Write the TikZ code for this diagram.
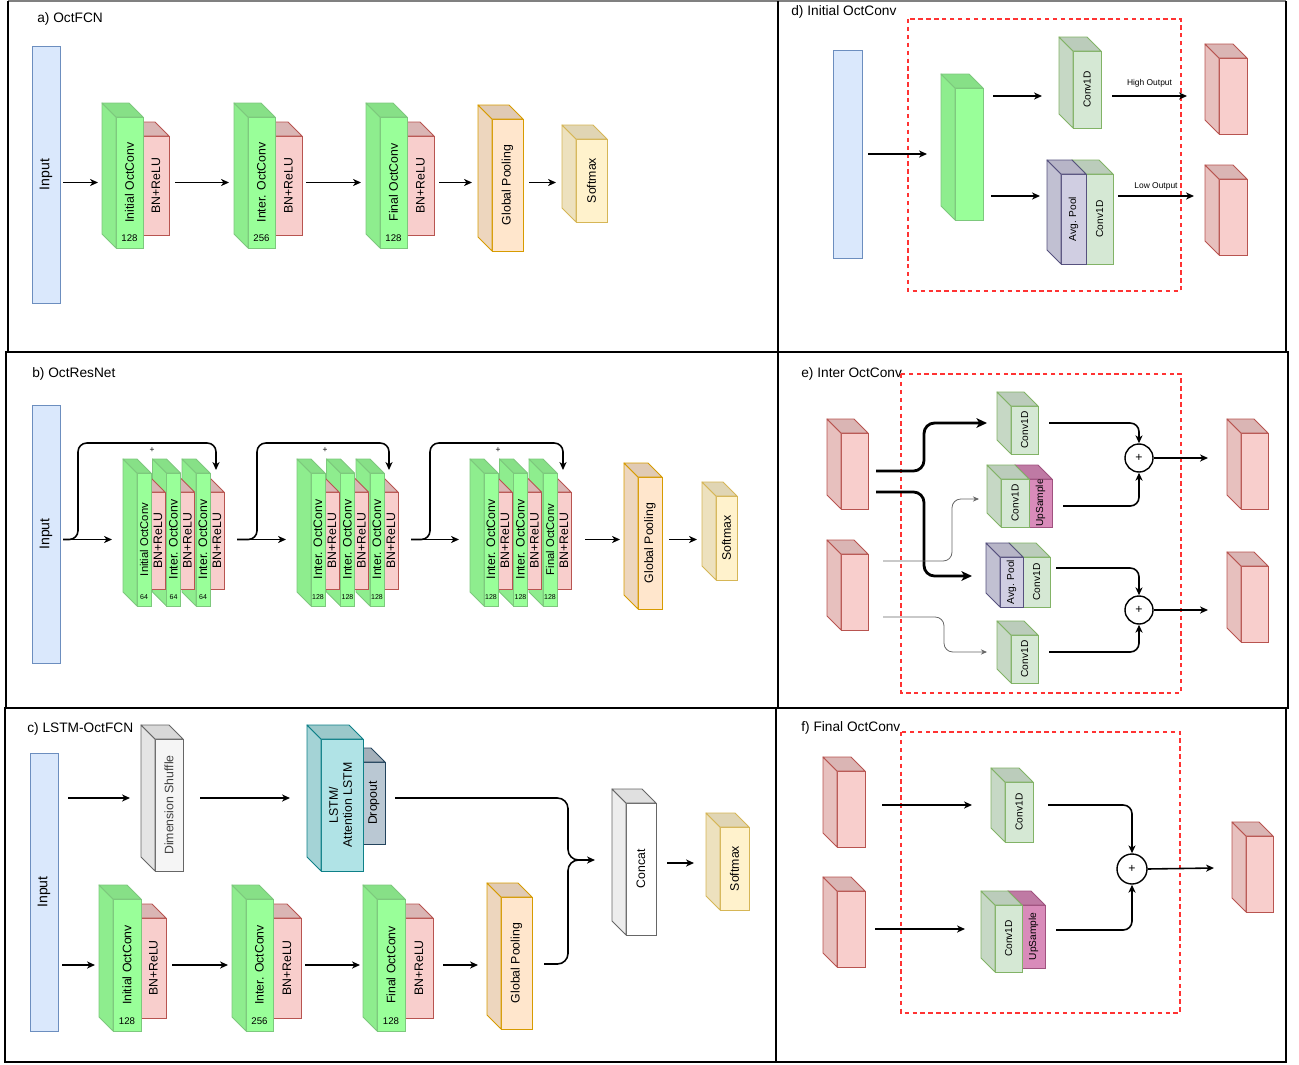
\documentclass[tikz,border=0pt]{standalone}
\usepackage{fontspec}
\setmainfont{Liberation Sans}
\usetikzlibrary{positioning,arrows.meta,calc}
\tikzset{
	>={Stealth[length=4.5pt,width=4pt,inset=1.3pt]}
}

\definecolor{oct}{HTML}{99FF99}
\definecolor{octline}{HTML}{7DC87D}
\definecolor{bn}{HTML}{F8CECC}
\definecolor{bnline}{HTML}{B85450}
\definecolor{conv}{HTML}{D5E8D4}
\definecolor{convline}{HTML}{82B366}
\definecolor{pool}{HTML}{D0CEE2}
\definecolor{poolline}{HTML}{56517E}
\definecolor{upsm}{HTML}{D98BBA}
\definecolor{upsmline}{HTML}{A0527F}
\definecolor{gp}{HTML}{FFE6CC}
\definecolor{gpline}{HTML}{D79B00}
\definecolor{sm}{HTML}{FFF2CC}
\definecolor{smline}{HTML}{D6B656}
\definecolor{shuf}{HTML}{F5F5F5}
\definecolor{shufline}{HTML}{666666}
\definecolor{cat}{HTML}{FFFFFF}
\definecolor{catline}{HTML}{666666}
\definecolor{lstm}{HTML}{B0E3E6}
\definecolor{lstmline}{HTML}{0E8088}
\definecolor{drop}{HTML}{BAC8D3}
\definecolor{dropline}{HTML}{23445D}
\definecolor{inp}{HTML}{DAE8FC}
\definecolor{inpline}{HTML}{6C8EBF}
\definecolor{blockred}{HTML}{FF3333}

% side and top face of a box, going up and left from its front face
\newcommand{\boxdepth}[2]{%
	\filldraw [fill=#2!93!black, draw=#2line, line width=0.55pt, line join=round]
		(#1.north west) -- ++(-14,-14) -- ($(#1.south west)+(-14,-14)$) -- (#1.south west) -- cycle;
	\filldraw [fill=#2!88!black, draw=#2line, line width=0.55pt, line join=round]
		(#1.north west) -- ++(-14,-14) -- ($(#1.north east)+(-14,-14)$) -- (#1.north east) -- cycle;
}

\begin{document}
\begin{tikzpicture}[
x = 0.02cm,
y = -0.02cm,
every node/.style = {
	font = \fontsize{7}{8}\selectfont
},
wh/.style 2 args = {
	minimum width = #1*0.02cm,
	minimum height = #2*0.02cm
},
face/.style = {
	draw,
	inner sep = 0pt,
	outer sep = 0pt,
	line width = 0.55pt
},
octbox/.style = {face, fill = oct, draw = octline},
bnbox/.style = {face, fill = bn, draw = bnline},
convbox/.style = {face, fill = conv, draw = convline, font = \fontsize{5.8}{7}\selectfont},
poolbox/.style = {face, fill = pool, draw = poolline, font = \fontsize{5.8}{7}\selectfont},
upbox/.style = {face, fill = upsm, draw = upsmline, font = \fontsize{5.8}{7}\selectfont},
gpbox/.style = {face, fill = gp, draw = gpline},
smbox/.style = {face, fill = sm, draw = smline},
shufbox/.style = {face, fill = shuf, draw = shufline, text = black!75},
catbox/.style = {face, fill = cat, draw = catline},
lstmbox/.style = {face, fill = lstm, draw = lstmline},
dropbox/.style = {face, fill = drop, draw = dropline},
inbox/.style = {face, fill = inp, draw = inpline, font = \fontsize{8}{9}\selectfont},
num/.style = {inner sep = 0pt, font = \fontsize{5.5}{6}\selectfont},
tinynum/.style = {inner sep = 0pt, font = \fontsize{4}{5}\selectfont},
minilabel/.style = {inner sep = 0pt, font = \fontsize{4.8}{6}\selectfont},
narrow/.style = {font = \fontsize{6.4}{7}\selectfont},
title/.style = {anchor = west, inner sep = 0pt, font = \fontsize{7.8}{9}\selectfont},
adder/.style = {circle, draw, fill = white, line width = 0.8pt, inner sep = 0pt},
panel/.style = {line width = 1.6pt},
block/.style = {draw = blockred, dash pattern = on 2.5pt off 2pt, line width = 0.6pt},
arrow/.style = {->, line width = 0.9pt},
heavy/.style = {-{Stealth[length=6pt,width=5.5pt,inset=1.6pt]}, line width = 1.6pt, rounded corners = 6},
faint/.style = {-{Stealth[length=3.5pt,width=3pt]}, line width = 0.45pt, draw = black!60, rounded corners = 5}
]

\useasboundingbox (0,0) rectangle (1299,1065);

% panel frames
\draw [gray, line width = 0.9pt] (8,1) -- (1286,1);
\draw [panel] (8,1) -- (8,352) -- (1286,352) -- (1286,1);
\draw [panel] (778,1) -- (778,352);
\draw [panel] (6,352) rectangle (778,708);
\draw [panel] (778,352) rectangle (1288,708);
\draw [panel] (5,708) rectangle (776,1062);
\draw [panel] (776,708) rectangle (1286,1062);

% a) OctFCN
\node (title_a) [title] at (37,19) {a) OctFCN};
\node (input_a) [inbox, wh={28}{257}] at (46,174.5) {\rotatebox{90}{Input}};

\node (bn_a1) [bnbox, wh={26}{99}] at (156,185.5) {\rotatebox{90}{BN+ReLU}};
\boxdepth{bn_a1}{bn}
\node (oct_a1) [octbox, wh={27}{131}] at (129.5,182.5) {\rotatebox{90}{Initial OctConv}};
\boxdepth{oct_a1}{oct}
\node (num_a1) [num, above = 3.5pt of oct_a1.south] {128};

\node (bn_a2) [bnbox, wh={27}{99}] at (288.5,185.5) {\rotatebox{90}{BN+ReLU}};
\boxdepth{bn_a2}{bn}
\node (oct_a2) [octbox, wh={27}{131}] at (261.5,182.5) {\rotatebox{90}{Inter. OctConv}};
\boxdepth{oct_a2}{oct}
\node (num_a2) [num, above = 3.5pt of oct_a2.south] {256};

\node (bn_a3) [bnbox, wh={27}{99}] at (420.5,185.5) {\rotatebox{90}{BN+ReLU}};
\boxdepth{bn_a3}{bn}
\node (oct_a3) [octbox, wh={27}{131}] at (393.5,182.5) {\rotatebox{90}{Final OctConv}};
\boxdepth{oct_a3}{oct}
\node (num_a3) [num, above = 3.5pt of oct_a3.south] {128};

\node (gp_a) [gpbox, wh={31}{132}] at (507.5,185) {\rotatebox{90}{Global Pooling}};
\boxdepth{gp_a}{gp}
\node (sm_a) [smbox, wh={31}{83}] at (591.5,180.5) {\rotatebox{90}{Softmax}};
\boxdepth{sm_a}{sm}

\draw [arrow] ($(input_a.east |- oct_a1.west)+(3,0)$) -- ($(oct_a1.west)+(-18,0)$);
\draw [arrow] ($(bn_a1.east |- oct_a2.west)+(6,0)$) -- ($(oct_a2.west)+(-19,0)$);
\draw [arrow] ($(bn_a2.east |- oct_a3.west)+(4,0)$) -- ($(oct_a3.west)+(-19,0)$);
\draw [arrow] ($(bn_a3.east |- oct_a3.west)+(5,0)$) -- ($(gp_a.west |- oct_a3.west)+(-20,0)$);
\draw [arrow] ($(gp_a.east |- oct_a3.west)+(6,0)$) -- ($(sm_a.west |- oct_a3.west)+(-20,0)$);

% d) Initial OctConv
\draw [block] (908,19) rectangle (1181,291);
\node (title_d) [title] at (791,12) {d) Initial OctConv};
\node (input_d) [inbox, wh={29}{208}] at (847.5,154) {};
\node (oct_d) [octbox, wh={28}{132}] at (969,154) {};
\boxdepth{oct_d}{oct}
\node (conv_dh) [convbox, wh={28}{77}] at (1087,89.5) {\rotatebox{90}{Conv1D}};
\boxdepth{conv_dh}{conv}
\node (conv_dl) [convbox, wh={27}{90}] at (1099.5,219) {\rotatebox{90}{Conv1D}};
\boxdepth{conv_dl}{conv}
\node (pool_d) [poolbox, wh={25}{90}] at (1073.5,219) {\rotatebox{90}{Avg. Pool}};
\boxdepth{pool_d}{pool}
\node (out_dh) [bnbox, wh={28}{76}] at (1233,96) {};
\boxdepth{out_dh}{bn}
\node (out_dl) [bnbox, wh={28}{76}] at (1233,217) {};
\boxdepth{out_dl}{bn}

\draw [arrow] ($(input_d.east)+(6,0)$) -- ($(oct_d.west)+(-28,0)$);
\draw [arrow] ($(oct_d.east |- out_dh.west)+(10,0)$) -- ($(conv_dh.west |- out_dh.west)+(-31,0)$);
\draw [arrow] ($(conv_dh.east |- out_dh.west)+(11,0)$) -- node [above = 4.5pt, minilabel] {High Output} ($(out_dh.west)+(-32,0)$);
\draw [arrow] ($(oct_d.east |- pool_d.west)+(8,-23)$) -- ($(pool_d.west)+(-21,-23)$);
\draw [arrow] ($(conv_dl.east)+(5,-23)$) -- node [above = 3pt, minilabel] {Low Output} ($(out_dl.west)+(-25,-21)$);

% b) OctResNet
\node (title_b) [title] at (32,374) {b) OctResNet};
\node (input_b) [inbox, wh={28}{258}] at (46,534) {\rotatebox{90}{Input}};

\node (bn_b3) [bnbox, wh={14}{97}] at (217,540.5) {\rotatebox{90}{BN+ReLU}};
\boxdepth{bn_b3}{bn}
\node (oct_b3) [octbox, wh={14}{133}] at (203,539.5) {\rotatebox{90}{Inter. OctConv}};
\boxdepth{oct_b3}{oct}
\node (num_b3) [tinynum, above = 3.5pt of oct_b3.south] {64};
\node (bn_b2) [bnbox, wh={14}{97}] at (187.5,540.5) {\rotatebox{90}{BN+ReLU}};
\boxdepth{bn_b2}{bn}
\node (oct_b2) [octbox, wh={14}{133}] at (173.5,539.5) {\rotatebox{90}{Inter. OctConv}};
\boxdepth{oct_b2}{oct}
\node (num_b2) [tinynum, above = 3.5pt of oct_b2.south] {64};
\node (bn_b1) [bnbox, wh={14}{97}] at (158,540.5) {\rotatebox{90}{BN+ReLU}};
\boxdepth{bn_b1}{bn}
\node (oct_b1) [octbox, narrow, wh={14}{133}] at (144,539.5) {\rotatebox{90}{Initial OctConv}};
\boxdepth{oct_b1}{oct}
\node (num_b1) [tinynum, above = 3.5pt of oct_b1.south] {64};

\node (bn_b6) [bnbox, wh={14}{97}] at (391,540.5) {\rotatebox{90}{BN+ReLU}};
\boxdepth{bn_b6}{bn}
\node (oct_b6) [octbox, wh={14}{133}] at (377,539.5) {\rotatebox{90}{Inter. OctConv}};
\boxdepth{oct_b6}{oct}
\node (num_b6) [tinynum, above = 3.5pt of oct_b6.south] {128};
\node (bn_b5) [bnbox, wh={14}{97}] at (361.5,540.5) {\rotatebox{90}{BN+ReLU}};
\boxdepth{bn_b5}{bn}
\node (oct_b5) [octbox, wh={14}{133}] at (347.5,539.5) {\rotatebox{90}{Inter. OctConv}};
\boxdepth{oct_b5}{oct}
\node (num_b5) [tinynum, above = 3.5pt of oct_b5.south] {128};
\node (bn_b4) [bnbox, wh={14}{97}] at (332,540.5) {\rotatebox{90}{BN+ReLU}};
\boxdepth{bn_b4}{bn}
\node (oct_b4) [octbox, wh={14}{133}] at (318,539.5) {\rotatebox{90}{Inter. OctConv}};
\boxdepth{oct_b4}{oct}
\node (num_b4) [tinynum, above = 3.5pt of oct_b4.south] {128};

\node (bn_b9) [bnbox, wh={14}{97}] at (564,540.5) {\rotatebox{90}{BN+ReLU}};
\boxdepth{bn_b9}{bn}
\node (oct_b9) [octbox, narrow, wh={14}{133}] at (550,539.5) {\rotatebox{90}{Final OctConv}};
\boxdepth{oct_b9}{oct}
\node (num_b9) [tinynum, above = 3.5pt of oct_b9.south] {128};
\node (bn_b8) [bnbox, wh={14}{97}] at (534.5,540.5) {\rotatebox{90}{BN+ReLU}};
\boxdepth{bn_b8}{bn}
\node (oct_b8) [octbox, wh={14}{133}] at (520.5,539.5) {\rotatebox{90}{Inter. OctConv}};
\boxdepth{oct_b8}{oct}
\node (num_b8) [tinynum, above = 3.5pt of oct_b8.south] {128};
\node (bn_b7) [bnbox, wh={14}{97}] at (505,540.5) {\rotatebox{90}{BN+ReLU}};
\boxdepth{bn_b7}{bn}
\node (oct_b7) [octbox, wh={14}{133}] at (491,539.5) {\rotatebox{90}{Inter. OctConv}};
\boxdepth{oct_b7}{oct}
\node (num_b7) [tinynum, above = 3.5pt of oct_b7.south] {128};

\node (gp_b) [gpbox, wh={24}{132}] at (650,543) {\rotatebox{90}{Global Pooling}};
\boxdepth{gp_b}{gp}
\node (sm_b) [smbox, wh={21}{84}] at (726.5,538) {\rotatebox{90}{Softmax}};
\boxdepth{sm_b}{sm}

\draw [arrow] ($(input_b.east |- oct_b1.west)+(3,0)$) -- ($(oct_b1.west)+(-25,0)$);
\draw [arrow, rounded corners = 5] ($(input_b.east |- oct_b1.west)+(3,0)$) -- ++(15,0) |- ($(bn_b3.north)+(-1,-49)$) -- ($(bn_b3.north)+(-1,-22)$);
\node (plus_b1) [minilabel] at (152,450) {+};
\draw [arrow] ($(bn_b3.east |- oct_b4.west)+(13,0)$) -- ($(oct_b4.west)+(-25,0)$);
\draw [arrow, rounded corners = 5] ($(bn_b3.east |- oct_b4.west)+(13,0)$) -- ++(20,0) |- ($(bn_b6.north)+(-2,-49)$) -- ($(bn_b6.north)+(-2,-22)$);
\node (plus_b2) [minilabel] at (325,450) {+};
\draw [arrow] ($(bn_b6.east |- oct_b7.west)+(13,0)$) -- ($(oct_b7.west)+(-25,0)$);
\draw [arrow, rounded corners = 5] ($(bn_b6.east |- oct_b7.west)+(13,0)$) -- ++(19,0) |- ($(bn_b9.north)+(-1,-49)$) -- ($(bn_b9.north)+(-1,-22)$);
\node (plus_b3) [minilabel] at (498,450) {+};
\draw [arrow] ($(bn_b9.east |- oct_b9.west)+(14,0)$) -- ($(gp_b.west |- oct_b9.west)+(-18,0)$);
\draw [arrow] ($(gp_b.east |- oct_b9.west)+(7,0)$) -- ($(sm_b.west |- oct_b9.west)+(-19,0)$);

% e) Inter OctConv
\draw [block] (901,374) rectangle (1181,693);
\node (title_e) [title] at (801,374) {e) Inter OctConv};
\node (in_eh) [bnbox, wh={27}{76}] at (854.5,471) {};
\boxdepth{in_eh}{bn}
\node (in_el) [bnbox, wh={27}{76}] at (854.5,592) {};
\boxdepth{in_el}{bn}
\node (conv_e1) [convbox, wh={27}{48}] at (1024.5,430) {\rotatebox{90}{Conv1D}};
\boxdepth{conv_e1}{conv}
\node (up_e) [upbox, wh={23}{48}] at (1040.5,503) {\rotatebox{90}{UpSample}};
\boxdepth{up_e}{upsm}
\node (conv_e2) [convbox, wh={28}{48}] at (1015,503) {\rotatebox{90}{Conv1D}};
\boxdepth{conv_e2}{conv}
\node (conv_e3) [convbox, wh={27}{50}] at (1036.5,582) {\rotatebox{90}{Conv1D}};
\boxdepth{conv_e3}{conv}
\node (pool_e) [poolbox, wh={23}{50}] at (1011.5,582) {\rotatebox{90}{Avg. Pool}};
\boxdepth{pool_e}{pool}
\node (conv_e4) [convbox, wh={27}{48}] at (1024.5,659) {\rotatebox{90}{Conv1D}};
\boxdepth{conv_e4}{conv}
\node (sum_e1) [adder, minimum size = 28*0.02cm] at (1139,458) {+};
\node (sum_e2) [adder, minimum size = 28*0.02cm] at (1139,610) {+};
\node (out_eh) [bnbox, wh={27}{76}] at (1254.5,471) {};
\boxdepth{out_eh}{bn}
\node (out_el) [bnbox, wh={27}{76}] at (1254.5,604) {};
\boxdepth{out_el}{bn}

\draw [heavy] ($(in_eh.east)+(8,0)$) -- ++(48,0) |- ($(conv_e1.west)+(-24,-7)$);
\draw [heavy] ($(in_eh.east)+(8,21)$) -- ++(48,0) |- ($(pool_e.west)+(-28,-6)$);
\draw [faint] ($(in_el.east)+(15,-31)$) -- ++(69,0) |- ($(conv_e2.west)+(-22,-4)$);
\draw [faint] ($(in_el.east)+(15,25)$) -- ++(61,0) |- ($(conv_e4.west)+(-24,-7)$);
\draw [arrow, rounded corners = 5] ($(conv_e1.east)+(11,-7)$) -| (sum_e1.north);
\draw [arrow, rounded corners = 5] ($(up_e.east)+(11,3)$) -| (sum_e1.south);
\draw [arrow, rounded corners = 5] ($(conv_e3.east)+(6,-14)$) -| (sum_e2.north);
\draw [arrow, rounded corners = 5] ($(conv_e4.east)+(11,-7)$) -| (sum_e2.south);
\draw [arrow] (sum_e1.east) -- ($(out_eh.west)+(-33,-13)$);
\draw [arrow] (sum_e2.east) -- ($(out_el.west)+(-33,6)$);

% c) LSTM-OctFCN
\node (title_c) [title] at (27,729) {c) LSTM-OctFCN};
\node (input_c) [inbox, wh={28}{278}] at (44,892) {\rotatebox{90}{Input}};
\node (shuf_c) [shufbox, wh={28}{132}] at (169,805) {\rotatebox{90}{Dimension Shuffle}};
\boxdepth{shuf_c}{shuf}
\node (drop_c) [dropbox, wh={22}{82}] at (374,803) {\rotatebox{90}{Dropout}};
\boxdepth{drop_c}{drop}
\node (lstm_c) [lstmbox, wh={42}{132}] at (342,805) {\rotatebox{90}{\begin{tabular}{@{}c@{}}LSTM/\\Attention LSTM\end{tabular}}};
\boxdepth{lstm_c}{lstm}

\node (bn_c1) [bnbox, wh={25}{100}] at (153.5,968) {\rotatebox{90}{BN+ReLU}};
\boxdepth{bn_c1}{bn}
\node (oct_c1) [octbox, wh={28}{132}] at (127,965) {\rotatebox{90}{Initial OctConv}};
\boxdepth{oct_c1}{oct}
\node (num_c1) [num, above = 3.5pt of oct_c1.south] {128};
\node (bn_c2) [bnbox, wh={28}{100}] at (287,968) {\rotatebox{90}{BN+ReLU}};
\boxdepth{bn_c2}{bn}
\node (oct_c2) [octbox, wh={27}{132}] at (259.5,965) {\rotatebox{90}{Inter. OctConv}};
\boxdepth{oct_c2}{oct}
\node (num_c2) [num, above = 3.5pt of oct_c2.south] {256};
\node (bn_c3) [bnbox, wh={28}{100}] at (419,968) {\rotatebox{90}{BN+ReLU}};
\boxdepth{bn_c3}{bn}
\node (oct_c3) [octbox, wh={28}{132}] at (391,965) {\rotatebox{90}{Final OctConv}};
\boxdepth{oct_c3}{oct}
\node (num_c3) [num, above = 3.5pt of oct_c3.south] {128};
\node (gp_c) [gpbox, wh={31}{132}] at (516.5,963) {\rotatebox{90}{Global Pooling}};
\boxdepth{gp_c}{gp}
\node (cat_c) [catbox, wh={30}{132}] at (641,869) {\rotatebox{90}{Concat}};
\boxdepth{cat_c}{cat}
\node (sm_c) [smbox, wh={29}{83}] at (734.5,868.5) {\rotatebox{90}{Softmax}};
\boxdepth{sm_c}{sm}

\draw [arrow] ($(input_c.east |- shuf_c.west)+(10,-7)$) -- ($(shuf_c.west)+(-25,-7)$);
\draw [arrow] ($(shuf_c.east)+(17,-7)$) -- ($(lstm_c.west)+(-31,-7)$);
\draw [arrow, rounded corners = 6] ($(drop_c.east)+(10,-5)$) -| ($(cat_c.west)+(-58,-9)$) -- ($(cat_c.west)+(-31,-9)$);
\draw [line width = 0.9pt, rounded corners = 6] ($(gp_c.east)+(12,1)$) -| ($(cat_c.west)+(-58,-9)$) -- ($(cat_c.west)+(-50,-9)$);
\draw [arrow] ($(input_c.east |- oct_c1.west)+(4,0)$) -- ($(oct_c1.west)+(-18,0)$);
\draw [arrow] ($(bn_c1.east |- oct_c2.west)+(6,0)$) -- ($(oct_c2.west)+(-18,0)$);
\draw [arrow] ($(bn_c2.east |- oct_c3.west)+(4,0)$) -- ($(oct_c3.west)+(-17,0)$);
\draw [arrow] ($(bn_c3.east |- oct_c3.west)+(10,0)$) -- ($(gp_c.west |- oct_c3.west)+(-23,0)$);
\draw [arrow] ($(cat_c.east)+(11,-6)$) -- ($(sm_c.west |- cat_c.east)+(-26,-6)$);

% f) Final OctConv
\draw [block] (901,732) rectangle (1180,1013);
\node (title_f) [title] at (801,728) {f) Final OctConv};
\node (in_fh) [bnbox, wh={28}{76}] at (851,809) {};
\boxdepth{in_fh}{bn}
\node (in_fl) [bnbox, wh={28}{76}] at (851,929) {};
\boxdepth{in_fl}{bn}
\node (conv_f1) [convbox, wh={28}{60}] at (1019,812) {\rotatebox{90}{Conv1D}};
\boxdepth{conv_f1}{conv}
\node (up_f) [upbox, wh={23}{63}] at (1033.5,936.5) {\rotatebox{90}{UpSample}};
\boxdepth{up_f}{upsm}
\node (conv_f2) [convbox, wh={27}{67}] at (1008.5,938.5) {\rotatebox{90}{Conv1D}};
\boxdepth{conv_f2}{conv}
\node (sum_f) [adder, minimum size = 30*0.02cm] at (1132,869) {+};
\node (out_f) [bnbox, wh={27}{76}] at (1259.5,874) {};
\boxdepth{out_f}{bn}

\draw [arrow] ($(in_fh.east)+(17,-4)$) -- ($(conv_f1.west)+(-33,-7)$);
\draw [arrow] ($(in_fl.east)+(10,0)$) -- ($(conv_f2.west)+(-30,-9.5)$);
\draw [arrow, rounded corners = 5] ($(conv_f1.east)+(15,-7)$) -| (sum_f.north);
\draw [arrow, rounded corners = 5] ($(up_f.east)+(11,-6.5)$) -| (sum_f.south);
\draw [arrow] (sum_f.east) -- ($(out_f.west)+(-32,-6)$);

\end{tikzpicture}
\end{document}
